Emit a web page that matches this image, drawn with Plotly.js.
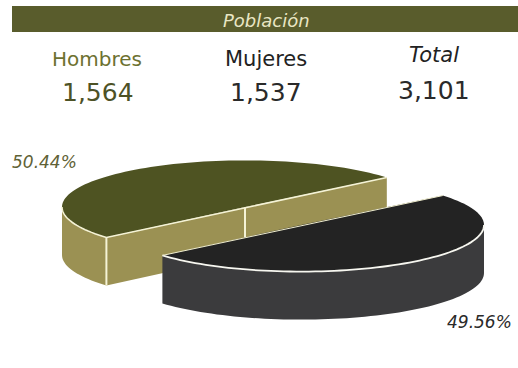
<!DOCTYPE html>
<html><head><meta charset="utf-8">
<script src="https://cdn.plot.ly/plotly-3.0.1.min.js"></script>
<style>html,body{margin:0;padding:0;background:#fff;overflow:hidden}</style>
</head><body><div id="chart" style="width:518px;height:368px"></div>
<script>
const title = 'Población';
const categories = ['Hombres', 'Mujeres'];
const values = [1564, 1537];
const totalLabel = 'Total';
const total = 3101;
const shares = ['50.44%', '49.56%'];

// pie projection
const startDeg = 39.2, RX = 183, RY = 46.6, DEPTH = 48;
const centres = [[245, 207], [301, 225]];
const topColors = ['#4e5322', '#232323'];
const wallColors = ['#9b9153', '#3b3b3d'];
const EDGE = '#f5f3d6';

const sum = values[0] + values[1];
const a0 = startDeg, a1 = a0 + 360 * values[0] / sum, a2 = a0 + 360;
const pt = (c, deg, dz) => [c[0] + RX * Math.cos(deg * Math.PI / 180),
                            c[1] - RY * Math.sin(deg * Math.PI / 180) + (dz || 0)];
function arc(c, from, to, dz) {
  const out = [], n = Math.max(2, Math.ceil(Math.abs(to - from) / 2));
  for (let i = 0; i <= n; i++) out.push(pt(c, from + (to - from) * i / n, dz));
  return out;
}
function tr(points, fill, line, width, closed) {
  const p = closed ? points.concat([points[0]]) : points;
  return {type: 'scatter', mode: 'lines', x: p.map(q => q[0]), y: p.map(q => q[1]),
    fill: fill ? 'toself' : 'none', fillcolor: fill || undefined,
    line: {color: line || 'rgba(0,0,0,0)', width: width || 0, simplify: false},
    hoverinfo: 'skip', showlegend: false};
}
const c0 = centres[0], c1 = centres[1];
const down = (p) => [p[0], p[1] + DEPTH];
const traces = [];
// Hombres: cut faces, outer wall, top
const L0 = pt(c0, a1), R0 = pt(c0, a0);
traces.push(tr([L0, c0, R0, down(R0), down(c0), down(L0)], wallColors[0], null, 0, true));
const w0 = arc(c0, 180, a1);
traces.push(tr(w0.concat(w0.map(down).reverse()), wallColors[0], null, 0, true));
traces.push(tr([c0, down(c0)].map((p, i) => i ? [p[0], p[1] + 30] : p), null, EDGE, 2));
traces.push(tr([L0, down(L0)], null, EDGE, 2));
traces.push(tr([c0].concat(arc(c0, a0, a1)), topColors[0], null, 0, true));
traces.push(tr(arc(c0, 180, a1).concat([R0]), null, EDGE, 1.6));
// Mujeres: outer wall, top
const w1 = arc(c1, a1, 360);
traces.push(tr(w1.concat(w1.map(down).reverse()), wallColors[1], null, 0, true));
traces.push(tr([c1].concat(arc(c1, a1, a2)), topColors[1], null, 0, true));
traces.push(tr(arc(c1, a1, 360), null, '#f7f7f0', 1.8));
traces.push(tr([pt(c1, a1), pt(c1, a2)], null, '#f0eecf', 1));

const fmt = n => n.toLocaleString('en-US');
const FONT = '"DejaVu Sans", sans-serif';
const note = (text, x, y, size, color, italic) => ({
  text: italic ? '<i>' + text + '</i>' : text, x, y, xref: 'x', yref: 'y', showarrow: false,
  xanchor: 'center', yanchor: 'middle', font: {family: FONT, size, color}
});
const annotations = [
  note(title, 266, 20, 18, '#e9e6c4', true),
  note(categories[0], 97, 59, 20, '#6d7130'),
  note(categories[1], 266, 59, 21, '#222222'),
  note(totalLabel, 434, 55, 21, '#222222', true),
  note(fmt(values[0]), 98, 92, 25, '#4d5226'),
  note(fmt(values[1]), 266, 92, 25, '#2a2a2a'),
  note(fmt(total), 434, 90, 25, '#2a2a2a'),
  note(shares[0], 44, 162, 17, '#5f6236', true),
  note(shares[1], 479, 322, 17, '#2a2a2a', true)
];
const layout = {
  width: 518, height: 368, margin: {l: 0, r: 0, t: 0, b: 0},
  paper_bgcolor: '#ffffff', plot_bgcolor: '#ffffff', showlegend: false,
  xaxis: {range: [0, 518], visible: false, fixedrange: true},
  yaxis: {range: [368, 0], visible: false, fixedrange: true},
  shapes: [{type: 'rect', xref: 'x', yref: 'y', x0: 12, x1: 518, y0: 6, y1: 32,
            fillcolor: '#595c2c', line: {width: 0}, layer: 'below'}],
  annotations
};
Plotly.newPlot('chart', traces, layout, {displayModeBar: false, staticPlot: true});
</script></body></html>
